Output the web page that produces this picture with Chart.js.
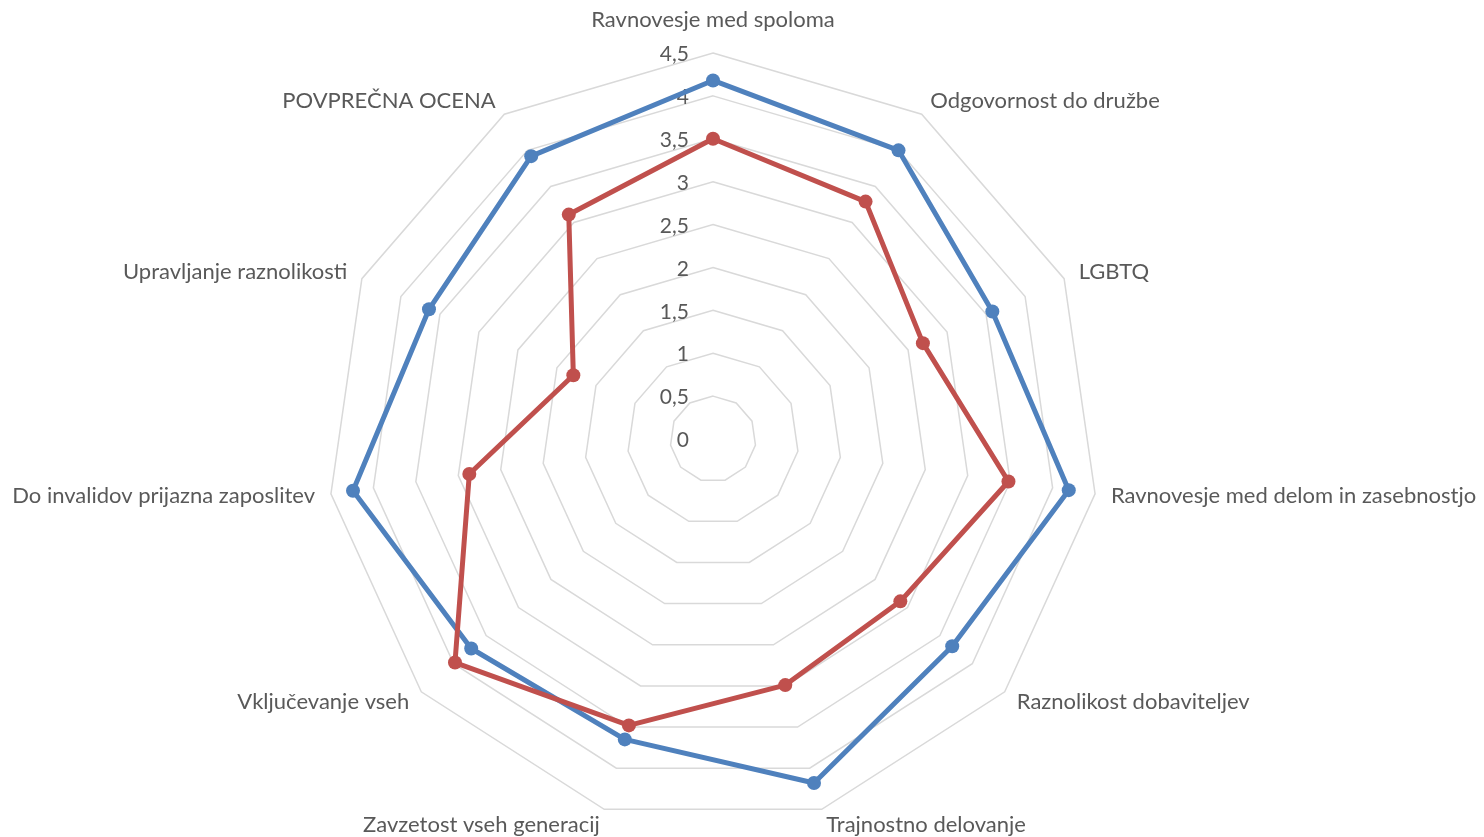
<!DOCTYPE html>
<html>
<head>
<meta charset="utf-8">
<script src="https://cdn.jsdelivr.net/npm/chart.js@4.4.1/dist/chart.umd.min.js"></script>
<style>
  html, body { margin: 0; padding: 0; background: #ffffff; }
  #wrap { width: 1484px; height: 837px; }
</style>
</head>
<body>
<div id="wrap"><canvas id="radar" width="1484" height="837"></canvas></div>
<script>
// categories, clockwise from the top
const categories = [
    'Ravnovesje med spoloma',
    'Odgovornost do družbe',
    'LGBTQ',
    'Ravnovesje med delom in zasebnostjo',
    'Raznolikost dobaviteljev',
    'Trajnostno delovanje',
    'Zavzetost vseh generacij',
    'Vključevanje vseh',
    'Do invalidov prijazna zaposlitev',
    'Upravljanje raznolikosti',
    'POVPREČNA OCENA'
];
const seriesBlue = [4.18, 4.00, 3.58, 4.19, 3.69, 4.18, 3.65, 3.73, 4.24, 3.64, 3.92];
const seriesRed = [3.50, 3.29, 2.69, 3.48, 2.89, 2.99, 3.48, 3.98, 2.87, 1.79, 3.11];
const tickLabels = ['0', '0,5', '1', '1,5', '2', '2,5', '3', '3,5', '4', '4,5'];
const tickValues = tickLabels.map(t => parseFloat(t.replace(',', '.')));

const TEXT_COLOR = '#595959';
const LABEL_FONT = '22px Lato';
const TICK_FONT = '21px Lato';

// Excel-like labels: tick labels left of the vertical axis, category labels around the web
const excelLabels = {
    id: 'excelLabels',
    beforeDatasetsDraw: (chart) => {
        const scale = chart.scales.r;
        const ctx = chart.ctx;
        ctx.save();
        ctx.fillStyle = TEXT_COLOR;

        ctx.font = TICK_FONT;
        ctx.textAlign = 'right';
        ctx.textBaseline = 'middle';
        tickLabels.forEach((t, i) => {
            const d = scale.getDistanceFromCenterForValue(tickValues[i]);
            ctx.fillText(t, scale.xCenter - 24, scale.yCenter - d + 1.5);
        });

        ctx.font = LABEL_FONT;
        categories.forEach((c, i) => {
            const p = scale.getPointPosition(i, scale.drawingArea + 16);
            const dx = p.x - scale.xCenter;
            let y = p.y;
            if (Math.abs(dx) < 1) {
                ctx.textAlign = 'center';
                y -= 17;
            } else {
                ctx.textAlign = dx > 0 ? 'left' : 'right';
            }
            ctx.fillText(c, p.x, y);
        });
        ctx.restore();
    }
};

new Chart(document.getElementById('radar'), {
    type: 'radar',
    data: {
        labels: categories,
        datasets: [
            {
                data: seriesBlue,
                borderColor: '#4f81bd',
                backgroundColor: '#4f81bd',
                pointBackgroundColor: '#4f81bd',
                borderWidth: 5,
                pointRadius: 7,
                pointBorderWidth: 0,
                borderJoinStyle: 'round',
                fill: false,
                order: 1
            },
            {
                data: seriesRed,
                borderColor: '#c0504d',
                backgroundColor: '#c0504d',
                pointBackgroundColor: '#c0504d',
                borderWidth: 5,
                pointRadius: 7,
                pointBorderWidth: 0,
                borderJoinStyle: 'round',
                fill: false,
                order: 0
            }
        ]
    },
    options: {
        responsive: false,
        animation: false,
        events: [],
        plugins: { legend: { display: false }, tooltip: { enabled: false } },
        scales: {
            r: {
                min: 0,
                max: 4.5,
                ticks: { stepSize: 0.5, display: false },
                grid: { color: '#d9d9d9', lineWidth: 1.5 },
                angleLines: { display: false },
                pointLabels: { display: false },
                afterFit: (scale) => {
                    scale.xCenter = 713;
                    scale.yCenter = 439;
                    scale.drawingArea = 386;
                }
            }
        }
    },
    plugins: [excelLabels]
});
</script>
</body>
</html>
